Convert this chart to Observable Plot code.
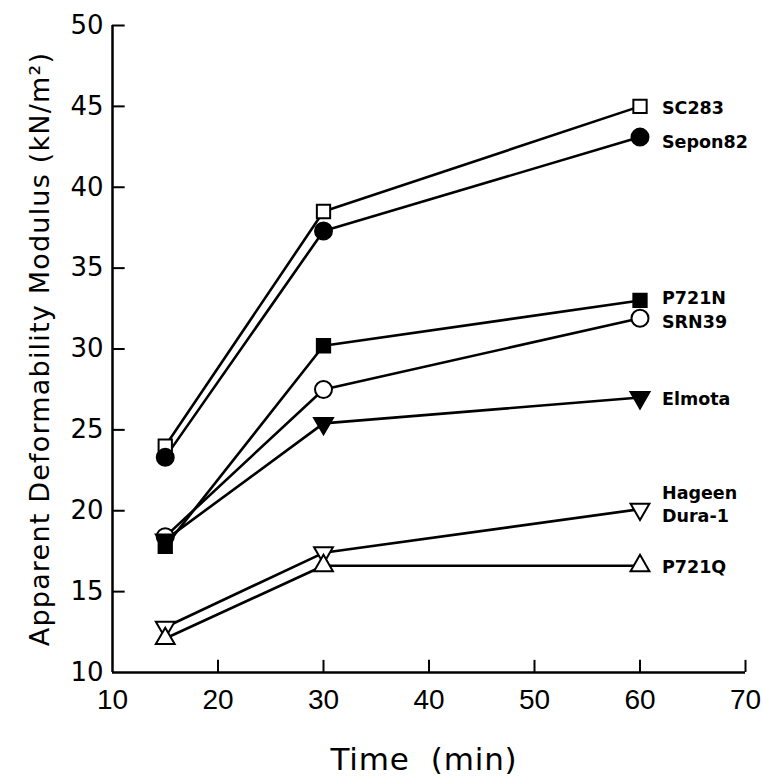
<!DOCTYPE html>
<html>
<head>
<meta charset="utf-8">
<script src="https://cdn.jsdelivr.net/npm/d3@7"></script>
<script src="https://cdn.jsdelivr.net/npm/@observablehq/plot@0.6"></script>
<style>
  html, body { margin: 0; padding: 0; background: #fff; }
  #chart svg { display: block; }
  .ylab text { letter-spacing: 1.2px; }
  .xlab text { letter-spacing: 0.8px; }
</style>
</head>
<body>
<div id="chart"></div>
<script>
// ---- data ----
const times = [15, 30, 60];
const seriesNames = ["SC283", "Sepon82", "P721N", "SRN39", "Elmota", "Hageen\nDura-1", "P721Q"];
const SC283   = [24.0, 38.5, 45.0];
const Sepon82 = [23.3, 37.3, 43.1];
const P721N   = [17.8, 30.2, 33.0];
const SRN39   = [18.4, 27.5, 31.9];
const Elmota  = [18.2, 25.4, 27.0];
const Hageen  = [12.8, 17.4, 20.1];
const P721Q   = [12.1, 16.6, 16.6];
const xTicks = [10, 20, 30, 40, 50, 60, 70];
const yTicks = [10, 15, 20, 25, 30, 35, 40, 45, 50];
const xLabel = "Time  (min)";
const yLabel = "Apparent Deformability Modulus (kN/m²)";

const values = [SC283, Sepon82, P721N, SRN39, Elmota, Hageen, P721Q];

// marker styling per series (style kept in code)
const style = {
  "SC283":          {symbol: "square",   fill: "white", rotate: 0,   r: 7.5, ldy: 0},
  "Sepon82":        {symbol: "circle",   fill: "black", rotate: 0,   r: 8.5, ldy: 4},
  "P721N":          {symbol: "square",   fill: "black", rotate: 0,   r: 7.5, ldy: -4},
  "SRN39":          {symbol: "circle",   fill: "white", rotate: 0,   r: 8.5, ldy: 2},
  "Elmota":         {symbol: "triangle", fill: "black", rotate: 180, r: 7,   ldy: 0},
  "Hageen\nDura-1": {symbol: "triangle", fill: "white", rotate: 180, r: 7,   ldy: -6},
  "P721Q":          {symbol: "triangle", fill: "white", rotate: 0,   r: 7,   ldy: 0}
};

const data = [];
seriesNames.forEach((s, i) => {
  times.forEach((t, j) => data.push({series: s, time: t, value: values[i][j]}));
});
const last = data.filter(d => d.time === 60);

const font = "'DejaVu Sans', sans-serif";
const narrow = "'Liberation Sans Narrow', 'Liberation Sans', sans-serif";

const chart = Plot.plot({
  width: 763,
  height: 783,
  marginLeft: 112,
  marginRight: 18,
  marginTop: 25,
  marginBottom: 111,
  style: {fontFamily: font, background: "white", color: "black"},
  x: {domain: [10, 70], ticks: xTicks},
  y: {domain: [10, 50], ticks: yTicks},
  marks: [
    // axes frame
    Plot.ruleX([10], {y1: 10, y2: 50, stroke: "black", strokeWidth: 2.5}),
    Plot.ruleY([10], {x1: 10, x2: 70, stroke: "black", strokeWidth: 2.5}),
    // inward ticks
    Plot.ruleX(xTicks.slice(1), {y1: 10, y2: 10.75, stroke: "black", strokeWidth: 2}),
    Plot.ruleY(yTicks.slice(1), {x1: 10, x2: 11.2, stroke: "black", strokeWidth: 2}),
    Plot.axisX({ticks: xTicks, tickSize: 0, tickPadding: 17, fontSize: 28, fontFamily: narrow, label: null}),
    Plot.axisY({ticks: yTicks, tickSize: 0, tickPadding: 9, fontSize: 26, label: null}),
    // axis titles
    Plot.text([xLabel], {frameAnchor: "bottom", text: d => d, dy: 97, dx: -5, fontSize: 31, fontFamily: font, className: "xlab"}),
    Plot.text([yLabel], {frameAnchor: "left", text: d => d, rotate: -90, dx: -72, textAnchor: "middle", fontSize: 27, fontFamily: font, className: "ylab"}),
    // lines
    Plot.line(data, {x: "time", y: "value", z: "series", stroke: "black", strokeWidth: 2.6}),
    // markers
    ...seriesNames.map(s => Plot.dot(data.filter(d => d.series === s), {
      x: "time", y: "value",
      symbol: () => style[s].symbol,
      r: style[s].r,
      rotate: style[s].rotate,
      fill: style[s].fill,
      stroke: "black",
      strokeWidth: 2
    })),
    // series labels
    ...last.map(d => Plot.text([d], {
      x: "time", y: "value", text: "series",
      dx: 22, dy: style[d.series].ldy,
      textAnchor: "start", lineAnchor: "middle",
      fontSize: 17.5, fontWeight: "bold", fill: "black", lineHeight: 1.3
    }))
  ]
});

document.getElementById("chart").append(chart);
</script>
</body>
</html>
